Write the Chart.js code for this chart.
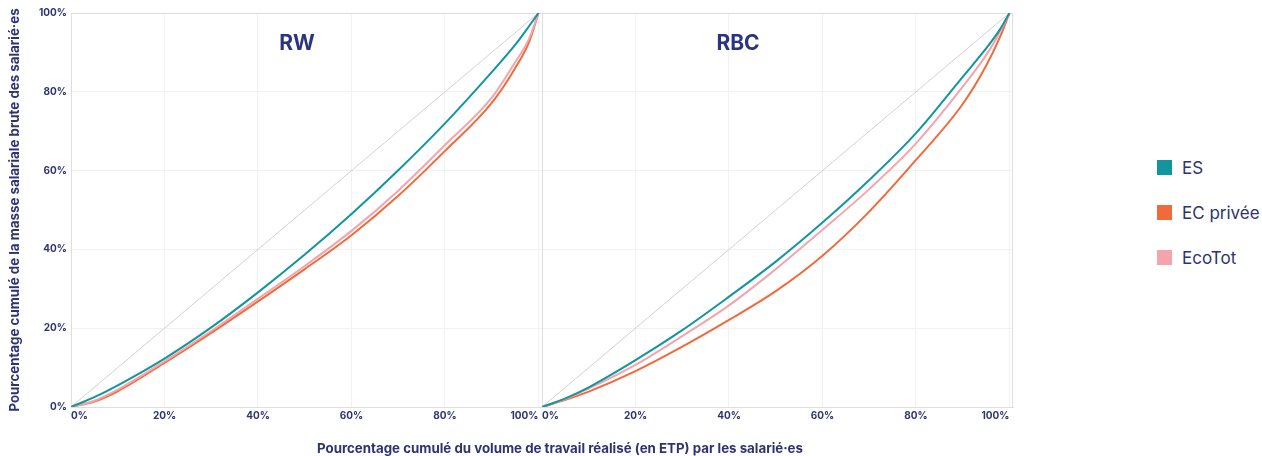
<!DOCTYPE html>
<html lang="fr">
<head>
<meta charset="utf-8">
<script src="https://cdn.jsdelivr.net/npm/chart.js@4.4.1/dist/chart.umd.min.js"></script>
<style>
  html, body { margin: 0; padding: 0; background: #fff; }
  #wrap { position: relative; width: 1262px; height: 456px; font-family: Inter, "Noto Sans", sans-serif; color: #2e3371; }
  #boxRW { position: absolute; left: 0; top: 0; width: 542px; height: 456px; }
  #boxRBC { position: absolute; left: 539px; top: 0; width: 475px; height: 456px; }
  #xtitle { position: absolute; left: 0; top: 440px; width: 1120px; text-align: center; font-weight: 700; font-size: 13.3px; line-height: 16px; }
  #legend { position: absolute; left: 1157px; top: 145px; }
  .item { display: flex; align-items: center; height: 45px; font-size: 17px; }
  .item span.box { display: inline-block; width: 15px; height: 15px; margin-right: 10px; }
</style>
</head>
<body>
<div id="wrap">
  <div id="boxRW"><canvas id="chartRW"></canvas></div>
  <div id="boxRBC"><canvas id="chartRBC"></canvas></div>
  <div id="xtitle">Pourcentage cumulé du volume de travail réalisé (en ETP) par les salarié·es</div>
  <div id="legend"></div>
</div>
<script>
// donnees (courbes de Lorenz)
var seriesNoms = ['ES', 'EC privée', 'EcoTot'];
var seriesCouleurs = ['#13959f', '#f26a3b', '#f4a5ac'];
var panneaux = ['RW', 'RBC'];
var graduations = [0, 0.2, 0.4, 0.6, 0.8, 1];

// RW
var partsRW = [0, 0.05, 0.1, 0.2, 0.3, 0.4, 0.5, 0.6, 0.7, 0.8, 0.9, 0.95, 0.98, 1];
var esRW    = [0, 0.025, 0.055, 0.123, 0.202, 0.291, 0.387, 0.490, 0.601, 0.720, 0.850, 0.919, 0.967, 1];
var ecRW    = [0, 0.014, 0.040, 0.112, 0.188, 0.268, 0.350, 0.436, 0.536, 0.650, 0.772, 0.860, 0.927, 1];
var ecoRW   = [0, 0.016, 0.044, 0.116, 0.193, 0.275, 0.358, 0.447, 0.549, 0.665, 0.785, 0.875, 0.935, 1];

// RBC
var partsRBC = [0, 0.05, 0.1, 0.2, 0.3, 0.4, 0.5, 0.6, 0.7, 0.8, 0.9, 0.95, 0.98, 1];
var esRBC    = [0, 0.022, 0.050, 0.119, 0.195, 0.280, 0.369, 0.468, 0.576, 0.695, 0.838, 0.910, 0.959, 1];
var ecRBC    = [0, 0.018, 0.039, 0.091, 0.153, 0.221, 0.294, 0.384, 0.496, 0.627, 0.769, 0.866, 0.940, 1];
var ecoRBC   = [0, 0.020, 0.047, 0.107, 0.180, 0.258, 0.350, 0.450, 0.553, 0.669, 0.813, 0.893, 0.953, 1];

var diagonale = [0, 1];

var navy = '#2e3371';
var fontTicks = { family: 'Inter', size: 10, weight: '700' };

function points(xs, ys) {
  return xs.map(function (x, i) { return { x: x, y: ys[i] }; });
}

function pct(v) { return Math.round(v * 100) + '%'; }

// titre RW / RBC dans la zone du graphique
var titrePanneau = {
  id: 'titrePanneau',
  afterDraw: function (chart, args, opts) {
    var a = chart.chartArea, ctx = chart.ctx;
    ctx.save();
    ctx.font = '700 21px Inter';
    ctx.fillStyle = '#2b3481';
    ctx.textAlign = 'center';
    ctx.textBaseline = 'middle';
    ctx.fillText(opts.text, a.left + opts.dx, a.top + 31);
    ctx.restore();
  }
};

// bord haut (et droit pour le dernier panneau)
var cadre = {
  id: 'cadre',
  beforeDatasetsDraw: function (chart, args, opts) {
    var a = chart.chartArea, ctx = chart.ctx;
    var t = Math.round(a.top) + 0.5, r = Math.round(a.right) - 0.5;
    ctx.save();
    ctx.strokeStyle = '#dedede';
    ctx.lineWidth = 1;
    ctx.beginPath();
    ctx.moveTo(a.left, t);
    ctx.lineTo(a.right, t);
    if (opts.droite) {
      ctx.moveTo(r, a.top);
      ctx.lineTo(r, a.bottom);
    }
    ctx.stroke();
    ctx.restore();
  }
};

function makeChart(id, titre, dx, xs, es, ec, eco, avecAxeY) {
  var ctx = document.getElementById(id).getContext('2d');
  return new Chart(ctx, {
    type: 'line',
    data: {
      datasets: [
        { label: seriesNoms[0], data: points(xs, es), borderColor: seriesCouleurs[0] },
        { label: seriesNoms[2], data: points(xs, eco), borderColor: seriesCouleurs[2] },
        { label: seriesNoms[1], data: points(xs, ec), borderColor: seriesCouleurs[1] },
        { label: 'diagonale', data: points(diagonale, diagonale), borderColor: '#d2d2d2', borderWidth: 1 }
      ]
    },
    options: {
      responsive: true,
      maintainAspectRatio: false,
      animation: false,
      layout: { padding: { top: 13, left: 0, right: avecAxeY ? 0 : 1, bottom: 0 } },
      elements: {
        point: { radius: 0 },
        line: { borderWidth: 2, cubicInterpolationMode: 'monotone', fill: false }
      },
      plugins: {
        legend: { display: false },
        tooltip: { enabled: false },
        titrePanneau: { text: titre, dx: dx },
        cadre: { droite: !avecAxeY }
      },
      scales: {
        x: {
          type: 'linear',
          min: 0,
          max: 1.0075,
          afterBuildTicks: function (s) { s.ticks = graduations.map(function (v) { return { value: v }; }); },
          afterFit: function (s) { s.height = 49; },
          ticks: { callback: pct, align: 'inner', font: fontTicks, color: navy, padding: 3, maxRotation: 0 },
          grid: { color: '#f1f1f1', drawTicks: false },
          border: { color: '#dedede' }
        },
        y: {
          type: 'linear',
          min: 0,
          max: 1,
          afterBuildTicks: function (s) { s.ticks = graduations.map(function (v) { return { value: v }; }); },
          afterFit: function (s) { s.width = avecAxeY ? 71 : 0; },
          ticks: { display: avecAxeY, callback: pct, font: fontTicks, color: navy, padding: 4 },
          grid: { color: '#f1f1f1', drawTicks: false },
          border: { color: '#dedede' },
          title: {
            display: avecAxeY,
            text: 'Pourcentage cumulé de la masse salariale brute des salarié·es',
            color: navy,
            font: { family: 'Inter', size: 13.3, weight: '700' },
            padding: { top: 7, bottom: 0 }
          }
        }
      }
    },
    plugins: [cadre, titrePanneau]
  });
}

makeChart('chartRW', panneaux[0], 226, partsRW, esRW, ecRW, ecoRW, true);
makeChart('chartRBC', panneaux[1], 196, partsRBC, esRBC, ecRBC, ecoRBC, false);

// legende
var leg = document.getElementById('legend');
seriesNoms.forEach(function (nom, i) {
  var d = document.createElement('div');
  d.className = 'item';
  d.innerHTML = '<span class="box" style="background:' + seriesCouleurs[i] + '"></span>' + nom;
  leg.appendChild(d);
});
</script>
</body>
</html>
